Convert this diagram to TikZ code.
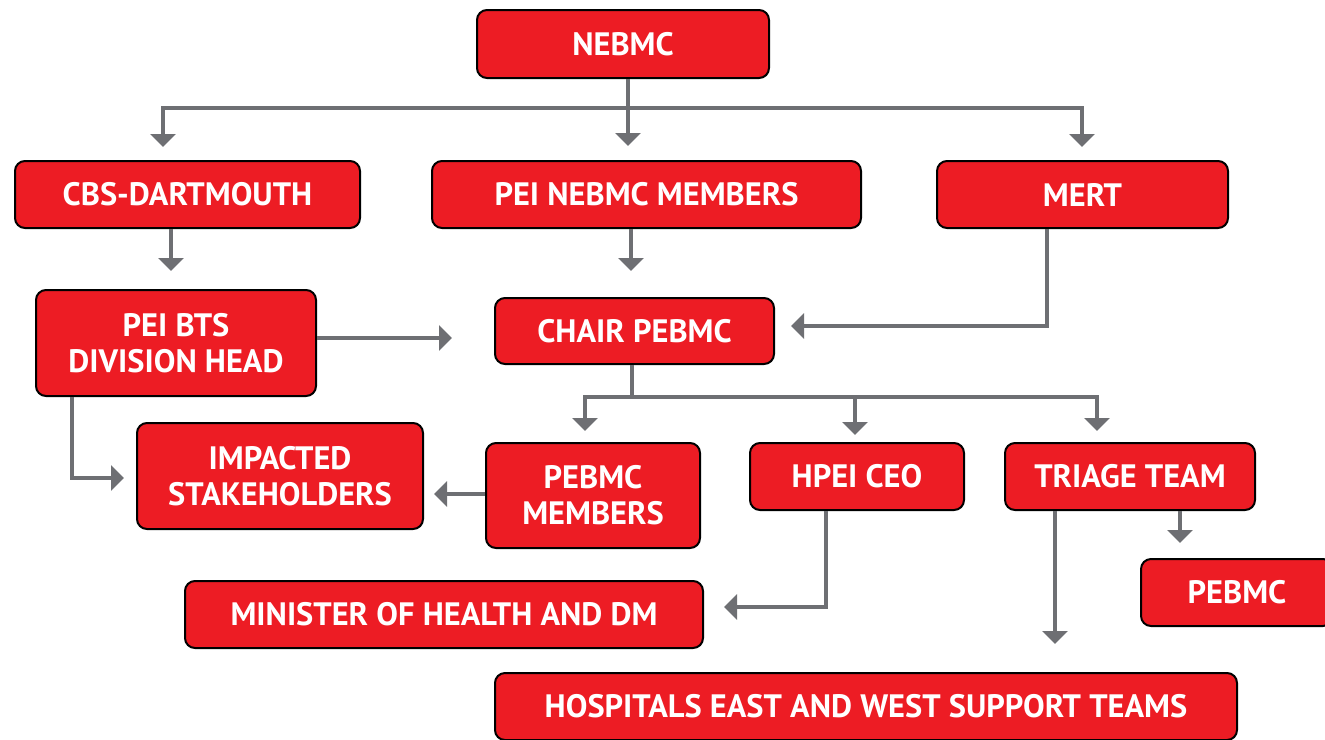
\documentclass[tikz,border=0pt]{standalone}
\usepackage{fontspec}
\setmainfont{PT Sans}
\usetikzlibrary{
	arrows.meta,
	calc,
	positioning
}
\definecolor{BoxRed}{RGB}{237,28,36}
\definecolor{LineGray}{RGB}{110,111,115}
\tikzset{
	box/.style={draw=black, line width=1pt, fill=BoxRed, rounded corners=5pt,
		text=white, font=\bfseries\fontsize{16.2}{18}\selectfont, align=center,
		inner sep=0pt},
	conn/.style={LineGray, line width=2pt,
		-{Triangle[length=6.5pt,width=12.5pt]}, shorten >=#1},
	conn/.default=6pt,
	bus/.style={LineGray, line width=2pt}
}

\begin{document}
\begin{tikzpicture}[x=0.5pt, y=-0.5pt]
			\clip (0,0) rectangle (1325,739);
			% boxes
			\node[box, minimum width=146pt, minimum height=34pt] (nebmc) at (623,44) {NEBMC};
			\node[box, minimum width=172.5pt, minimum height=33.5pt] (cbs) at (187.5,194.5) {CBS-DARTMOUTH};
			\node[box, minimum width=214.5pt, minimum height=33.5pt] (peinebmc) at (646.5,194.5) {PEI NEBMC MEMBERS};
			\node[box, minimum width=145.5pt, minimum height=33.5pt] (mert) at (1082.5,194.5) {MERT};
			\node[box, minimum width=140pt, minimum height=53pt] (bts) at (176,343) {PEI BTS\\DIVISION HEAD};
			\node[box, minimum width=139.5pt, minimum height=33pt] (chair) at (634.5,331) {CHAIR PEBMC};
			\node[box, minimum width=143pt, minimum height=53pt] (impacted) at (280,476) {IMPACTED\\STAKEHOLDERS};
			\node[box, minimum width=107pt, minimum height=52.5pt] (pebmcmem) at (593,495.5) {PEBMC\\MEMBERS};
			\node[box, minimum width=107pt, minimum height=33.5pt] (hpei) at (857,476.5) {HPEI CEO};
			\node[box, minimum width=125pt, minimum height=33.5pt] (triage) at (1130,476.5) {TRIAGE TEAM};
			\node[box, minimum width=96pt, minimum height=33.5pt] (pebmc) at (1237,592.5) {PEBMC};
			\node[box, minimum width=259pt, minimum height=33.5pt] (minister) at (444,614.5) {MINISTER OF HEALTH AND DM};
			\node[box, minimum width=371pt, minimum height=33.5pt] (hospitals) at (866,706.5) {HOSPITALS EAST AND WEST SUPPORT TEAMS};
			% NEBMC fan-out
			\coordinate (splitA) at (628,108);
			\draw[bus] (nebmc.south -| 628,0) -- (splitA);
			\draw[conn=6.5pt] (splitA) -| (cbs.north -| 163,0);
			\draw[conn=7pt] (splitA) -- (peinebmc.north -| 628,0);
			\draw[conn=6.5pt] (splitA) -| (mert.north -| 1082,0);
			% second row
			\draw[conn=9pt] (cbs.south -| 171,0) -- (bts.north -| 171,0);
			\draw[conn=13pt] (peinebmc.south -| 631,0) -- (chair.north -| 631,0);
			\draw[conn=8pt] (mert.south -| 1047,0) |- (chair.east |- 0,326);
			\draw[conn=21pt] (bts.east |- 0,338) -- (chair.west |- 0,338);
			\draw[conn=6pt] (bts.south -| 72,0) |- (impacted.west |- 0,478);
			% CHAIR fan-out
			\coordinate (splitB) at (632,397);
			\draw[bus] (chair.south -| 632,0) -- (splitB);
			\draw[conn=5.5pt] (splitB) -| (pebmcmem.north -| 585,0);
			\draw[conn=3.5pt] (splitB) -| (hpei.north -| 855,0);
			\draw[conn=5.5pt] (splitB) -| (triage.north -| 1097,0);
			% lower rows
			\draw[conn=5pt] (pebmcmem.west |- 0,494) -- (impacted.east |- 0,494);
			\draw[conn=10pt] (hpei.south -| 826,0) |- (minister.east |- 0,607);
			\draw[conn=14pt] (triage.south -| 1055,0) -- (hospitals.north -| 1055,0);
			\draw[conn=7.5pt] (triage.south -| 1180,0) -- (pebmc.north -| 1180,0);
		\end{tikzpicture}
\end{document}
